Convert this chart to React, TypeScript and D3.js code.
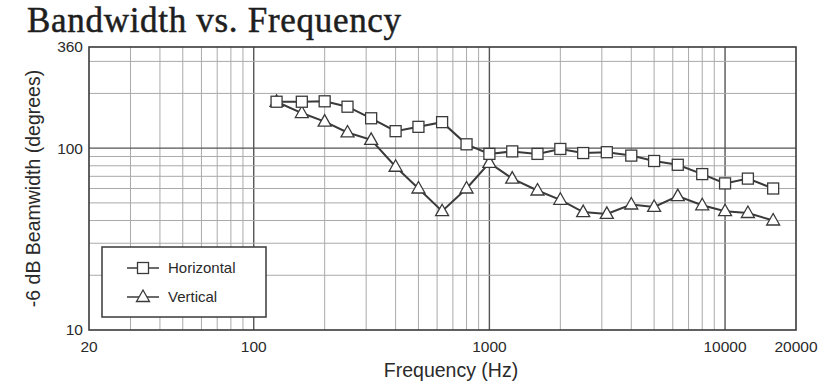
import React from "react";
import * as d3 from "d3";

const freqs = [125, 160, 200, 250, 315, 400, 500, 630, 800, 1000, 1250, 1600, 2000, 2500, 3150, 4000, 5000, 6300, 8000, 10000, 12500, 16000];
const horizontal = [180, 180, 181, 169, 146, 124, 131, 139, 105, 93, 96, 93, 99, 94, 95, 91, 85, 81, 72, 64, 68, 60];
const vertical = [180, 156, 140, 122, 111, 79, 60, 45, 60, 83, 68, 58.5, 52, 44.5, 43.5, 49, 47.5, 54.5, 48.5, 45, 44, 40];
const xTickLabels = [20, 100, 1000, 10000, 20000];
const yTickLabels = [10, 100, 360];

const W = 825;
const H = 389;
const margin = { top: 47, right: 29, bottom: 59, left: 89 };

const App = () => {
  const x = d3.scaleLog().domain([20, 20000]).range([margin.left, 796]);
  const y = d3.scaleLog().domain([10, 360]).range([H - margin.bottom, margin.top]);

  const xGrid: number[] = [];
  for (let d = 10; d <= 10000; d *= 10) {
    for (let k = 1; k <= 9; k++) {
      const v = d * k;
      if (v > 20 && v < 20000) xGrid.push(v);
    }
  }
  const yGrid: number[] = [];
  for (let d = 10; d <= 100; d *= 10) {
    for (let k = 1; k <= 9; k++) {
      const v = d * k;
      if (v > 10 && v < 360) yGrid.push(v);
    }
  }
  const isMajor = (v: number) => Math.abs(Math.log10(v) - Math.round(Math.log10(v))) < 1e-9;

  const line = d3
    .line<number>()
    .x((_, i) => x(freqs[i]))
    .y((d) => y(d));

  const x0 = x.range()[0];
  const x1 = x.range()[1];
  const y0 = y.range()[0];
  const y1 = y.range()[1];
  const stroke = "#3a3a3a";
  const textCol = "#2a2a2a";
  const sans = "'Liberation Sans', Arial, Helvetica, sans-serif";

  const square = (cx: number, cy: number, key: string | number) => (
    <rect key={key} x={cx - 5.5} y={cy - 5.5} width={11} height={11} fill="#fff" stroke={stroke} strokeWidth={1.3} />
  );
  const triangle = (cx: number, cy: number, key: string | number) => (
    <path
      key={key}
      d={`M${cx},${cy - 7}L${cx + 6.5},${cy + 4.5}L${cx - 6.5},${cy + 4.5}Z`}
      fill="#fff"
      stroke={stroke}
      strokeWidth={1.3}
    />
  );

  return (
    <svg width={W} height={H} style={{ position: "absolute", left: 0, top: 0, background: "#fff" }}>
      <text
        x={27}
        y={32}
        fontFamily="'Liberation Serif', 'Times New Roman', serif"
        fontSize={35}
        letterSpacing={0.7}
        fill="#1e1e1e"
        stroke="#1e1e1e"
        strokeWidth={0.5}
      >
        Bandwidth vs. Frequency
      </text>

      {/* grid */}
      {xGrid.map((v) => (
        <line
          key={"gx" + v}
          x1={x(v)}
          x2={x(v)}
          y1={y1}
          y2={y0}
          stroke={isMajor(v) ? "#555" : "#aaa"}
          strokeWidth={isMajor(v) ? 1.4 : 1}
        />
      ))}
      {yGrid.map((v) => (
        <line
          key={"gy" + v}
          x1={x0}
          x2={x1}
          y1={y(v)}
          y2={y(v)}
          stroke={isMajor(v) ? "#555" : "#aaa"}
          strokeWidth={isMajor(v) ? 1.4 : 1}
        />
      ))}
      <rect x={x0} y={y1} width={x1 - x0} height={y0 - y1} fill="none" stroke={stroke} strokeWidth={1.6} />

      {/* tick labels */}
      {yTickLabels.map((v) => (
        <text key={"yl" + v} x={x0 - 6} y={y(v)} dy="0.35em" textAnchor="end" fontFamily={sans} fontSize={15.5} fill={textCol}>
          {v}
        </text>
      ))}
      {xTickLabels.map((v) => (
        <text key={"xl" + v} x={x(v)} y={y0 + 22} textAnchor="middle" fontFamily={sans} fontSize={15.5} fill={textCol}>
          {v}
        </text>
      ))}
      <text x={451} y={377} textAnchor="middle" fontFamily={sans} fontSize={19.5} fill={textCol}>
        Frequency (Hz)
      </text>
      <text
        transform={`translate(40,${(y0 + y1) / 2}) rotate(-90)`}
        textAnchor="middle"
        fontFamily={sans}
        fontSize={19.5}
        fill={textCol}
      >
        -6 dB Beamwidth (degrees)
      </text>

      {/* series */}
      <path d={line(vertical) || ""} fill="none" stroke={stroke} strokeWidth={2} />
      <path d={line(horizontal) || ""} fill="none" stroke={stroke} strokeWidth={2} />
      {vertical.map((v, i) => triangle(x(freqs[i]), y(v), "t" + i))}
      {horizontal.map((v, i) => square(x(freqs[i]), y(v), "s" + i))}

      {/* legend */}
      <rect x={102} y={247} width={164} height={70} fill="#fff" stroke={stroke} strokeWidth={1.5} />
      <line x1={127} x2={159} y1={268} y2={268} stroke={stroke} strokeWidth={1.5} />
      {square(143, 268, "ls")}
      <text x={168} y={268} dy="0.35em" fontFamily={sans} fontSize={15} fill={textCol}>
        Horizontal
      </text>
      <line x1={127} x2={159} y1={297} y2={297} stroke={stroke} strokeWidth={1.5} />
      {triangle(143, 297, "lt")}
      <text x={168} y={297} dy="0.35em" fontFamily={sans} fontSize={15} fill={textCol}>
        Vertical
      </text>
    </svg>
  );
};

export default App;
